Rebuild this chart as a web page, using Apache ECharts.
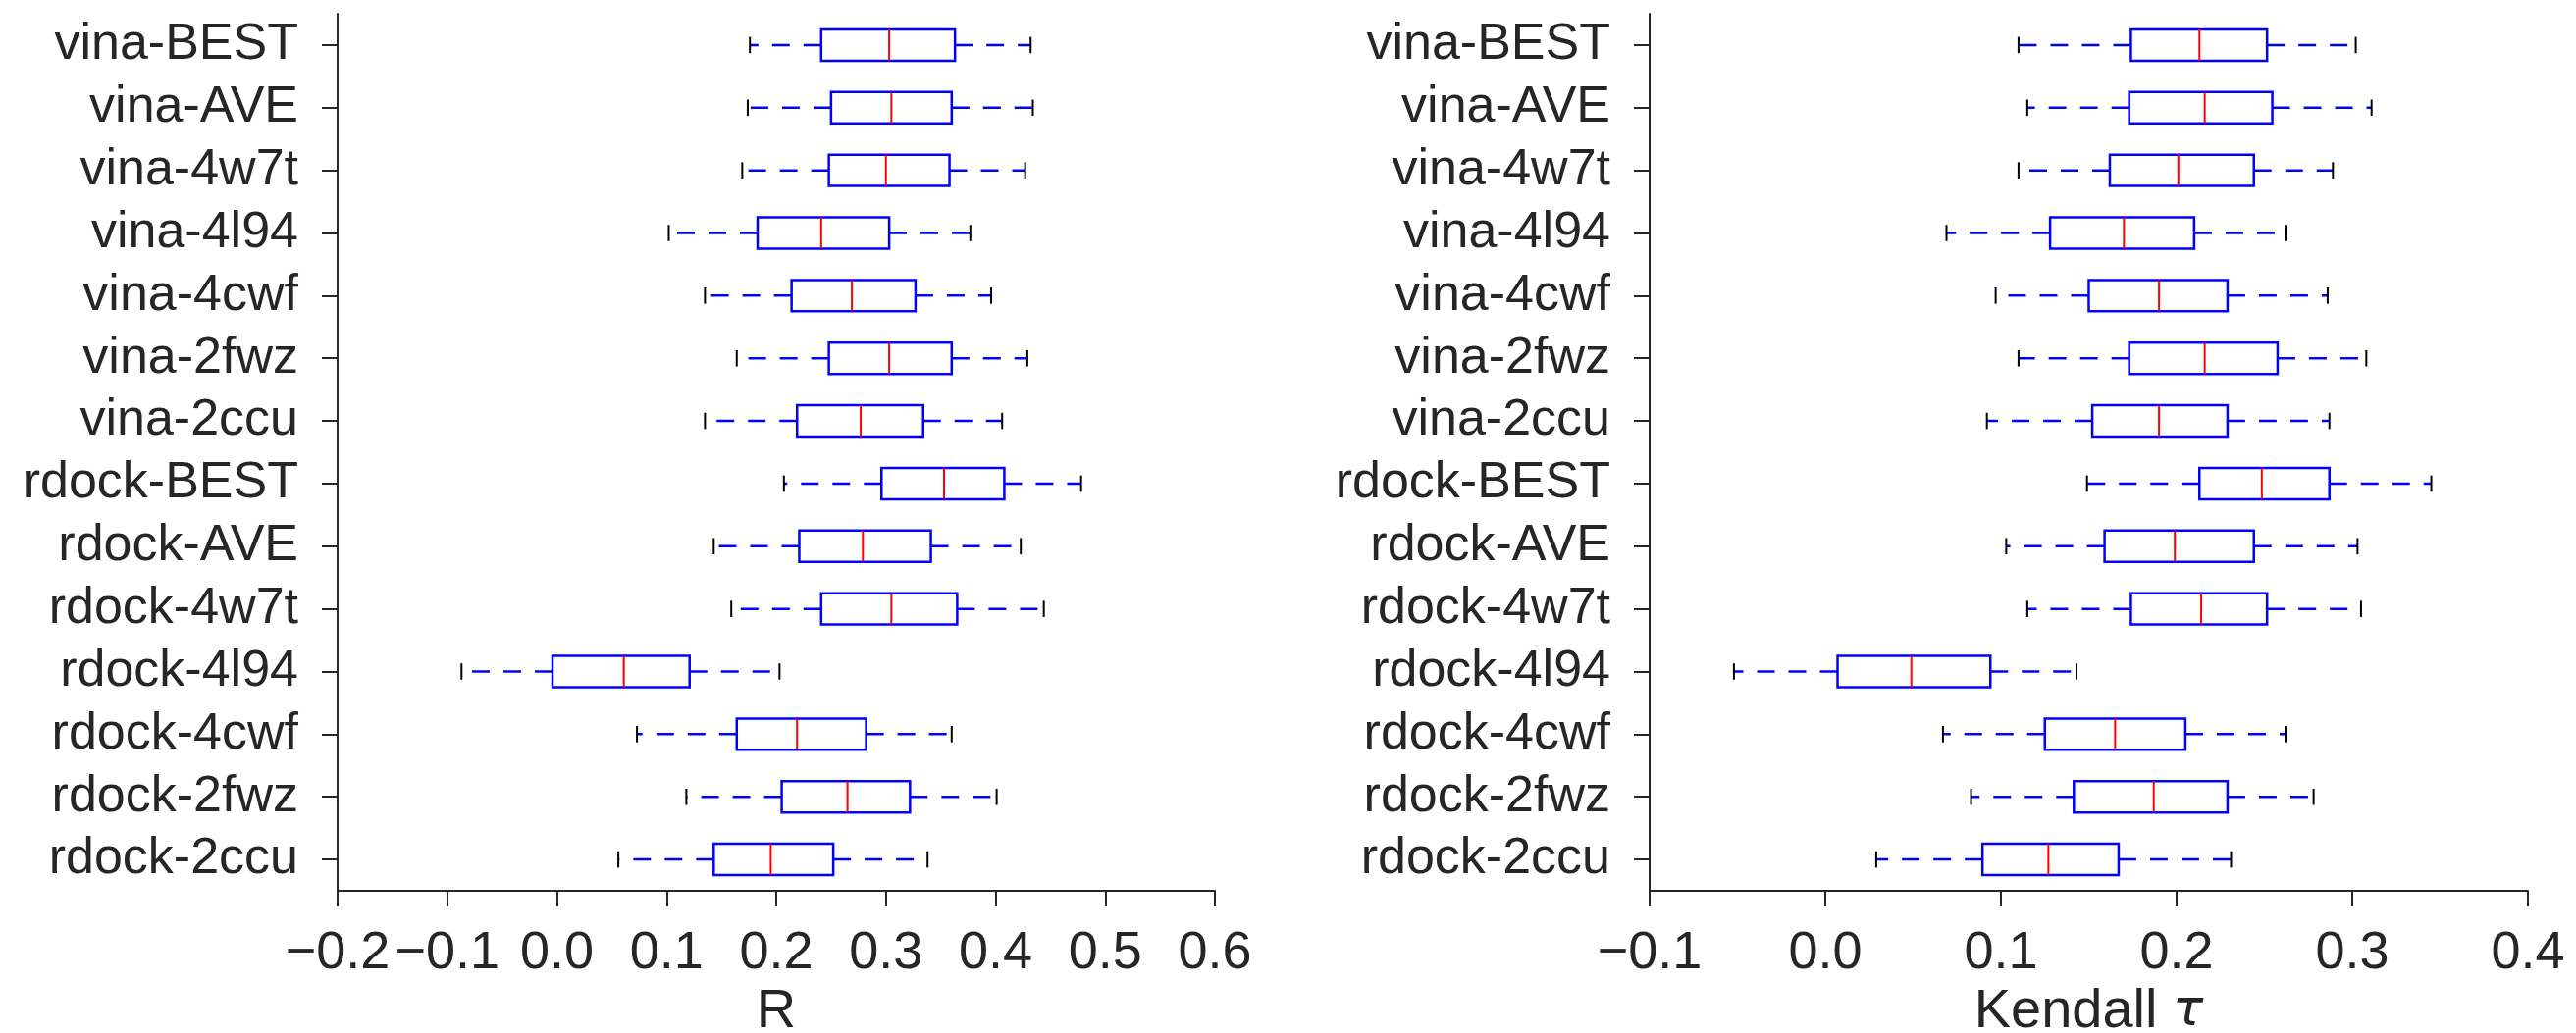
<!DOCTYPE html>
<html>
<head>
<meta charset="utf-8">
<script src="https://cdn.jsdelivr.net/npm/echarts@6/dist/echarts.min.js"></script>
<style>
  html, body { margin: 0; padding: 0; background: #ffffff; }
  #chart { width: 2625px; height: 1053px; }
</style>
</head>
<body>
<div id="chart"></div>
<script>
// Scoring methods, listed top to bottom
const methods = [
  'vina-BEST', 'vina-AVE', 'vina-4w7t', 'vina-4l94', 'vina-4cwf', 'vina-2fwz', 'vina-2ccu',
  'rdock-BEST', 'rdock-AVE', 'rdock-4w7t', 'rdock-4l94', 'rdock-4cwf', 'rdock-2fwz', 'rdock-2ccu'
];

// Pearson R: whisker low, Q1, median, Q3, whisker high
const rLow  = [0.176, 0.174, 0.169, 0.102, 0.135, 0.164, 0.135, 0.207, 0.143, 0.159, -0.087, 0.073, 0.118, 0.056];
const rQ1   = [0.241, 0.250, 0.248, 0.183, 0.214, 0.248, 0.219, 0.296, 0.221, 0.241, -0.004, 0.164, 0.205, 0.143];
const rMed  = [0.303, 0.305, 0.300, 0.241, 0.269, 0.303, 0.277, 0.353, 0.279, 0.305, 0.061, 0.219, 0.265, 0.195];
const rQ3   = [0.363, 0.360, 0.358, 0.303, 0.327, 0.360, 0.334, 0.408, 0.341, 0.365, 0.121, 0.282, 0.322, 0.252];
const rHigh = [0.432, 0.434, 0.427, 0.377, 0.396, 0.429, 0.406, 0.478, 0.423, 0.444, 0.203, 0.360, 0.401, 0.338];

// Kendall tau: whisker low, Q1, median, Q3, whisker high
const tauLow  = [0.110, 0.115, 0.110, 0.069, 0.097, 0.110, 0.092, 0.149, 0.103, 0.115, -0.052, 0.067, 0.083, 0.029];
const tauQ1   = [0.174, 0.173, 0.162, 0.128, 0.150, 0.173, 0.152, 0.213, 0.159, 0.174, 0.007, 0.125, 0.1415, 0.0895];
const tauMed  = [0.213, 0.216, 0.201, 0.170, 0.190, 0.216, 0.190, 0.2485, 0.199, 0.214, 0.049, 0.165, 0.187, 0.127];
const tauQ3   = [0.2515, 0.2545, 0.244, 0.210, 0.229, 0.2575, 0.229, 0.287, 0.244, 0.2515, 0.094, 0.205, 0.229, 0.167];
const tauHigh = [0.302, 0.311, 0.289, 0.262, 0.286, 0.308, 0.287, 0.345, 0.303, 0.305, 0.143, 0.262, 0.278, 0.231];

// Axis ranges and tick labels
const rTicks = [-0.2, -0.1, 0.0, 0.1, 0.2, 0.3, 0.4, 0.5, 0.6];
const tauTicks = [-0.1, 0.0, 0.1, 0.2, 0.3, 0.4];

const INK = '#262626';
const FONT = '"Liberation Sans", Arial, Helvetica, sans-serif';

function rows(lo, q1, md, q3, hi) {
  return methods.map((m, i) => [i, lo[i], q1[i], md[i], q3[i], hi[i]]);
}

function fmtTick(v) {
  const s = Math.abs(v).toFixed(1);
  return (v < -1e-9 ? '\u2212' : '') + s;
}

// Draws one box: dashed blue whiskers, black caps, blue box, red median
function renderBox(params, api) {
  const cat = api.value(0);
  const lo = api.coord([api.value(1), cat]);
  const q1 = api.coord([api.value(2), cat]);
  const md = api.coord([api.value(3), cat]);
  const q3 = api.coord([api.value(4), cat]);
  const hi = api.coord([api.value(5), cat]);
  const band = api.size([0, 1])[1];
  const bh = band * 0.5;
  const ch = band * 0.26;
  const y = md[1];
  const whisk = { stroke: '#0000ff', lineWidth: 2.5, lineDash: [18, 14] };
  const cap = { stroke: '#000000', lineWidth: 2 };
  return {
    type: 'group',
    children: [
      { type: 'line', shape: { x1: q1[0], y1: y, x2: lo[0], y2: y }, style: whisk },
      { type: 'line', shape: { x1: q3[0], y1: y, x2: hi[0], y2: y }, style: whisk },
      { type: 'line', shape: { x1: lo[0], y1: y - ch / 2, x2: lo[0], y2: y + ch / 2 }, style: cap },
      { type: 'line', shape: { x1: hi[0], y1: y - ch / 2, x2: hi[0], y2: y + ch / 2 }, style: cap },
      { type: 'rect', shape: { x: q1[0], y: y - bh / 2, width: q3[0] - q1[0], height: bh },
        style: { fill: 'none', stroke: '#0000ff', lineWidth: 2.5 } },
      { type: 'line', shape: { x1: md[0], y1: y - bh / 2, x2: md[0], y2: y + bh / 2 },
        style: { stroke: '#ff0000', lineWidth: 2 } }
    ]
  };
}

function valueAxis(gridIndex, ticks, name) {
  return {
    type: 'value',
    gridIndex: gridIndex,
    min: ticks[0],
    max: ticks[ticks.length - 1],
    interval: 0.1,
    name: name,
    nameLocation: 'middle',
    nameGap: 75,
    nameTextStyle: { fontFamily: FONT, fontSize: 56, color: INK,
      rich: {
        a: { fontFamily: FONT, fontSize: 56, color: INK },
        t: { fontFamily: '"DejaVu Sans", sans-serif', fontStyle: 'italic', fontSize: 52, color: INK }
      } },
    axisLine: { show: true, onZero: false, lineStyle: { color: INK, width: 2 } },
    axisTick: { show: true, inside: false, length: 16, lineStyle: { color: INK, width: 2 } },
    axisLabel: { margin: 37, fontFamily: FONT, fontSize: 54, color: INK,
      formatter: fmtTick, showMinLabel: true, showMaxLabel: true },
    splitLine: { show: false }
  };
}

function categoryAxis(gridIndex) {
  return {
    type: 'category',
    gridIndex: gridIndex,
    data: methods,
    inverse: true,
    boundaryGap: true,
    axisLine: { show: true, onZero: false, lineStyle: { color: INK, width: 2 } },
    axisTick: { show: true, alignWithLabel: true, length: 16, lineStyle: { color: INK, width: 2 } },
    axisLabel: { margin: 40, fontFamily: FONT, fontSize: 52, color: INK, interval: 0 },
    splitLine: { show: false }
  };
}

const chart = echarts.init(document.getElementById('chart'), null, { renderer: 'canvas' });
chart.setOption({
  backgroundColor: '#ffffff',
  animation: false,
  grid: [
    { left: 344, top: 14, width: 894, height: 894, containLabel: false, outerBoundsMode: 'none' },
    { left: 1681, top: 14, width: 895, height: 894, containLabel: false, outerBoundsMode: 'none' }
  ],
  xAxis: [
    valueAxis(0, rTicks, 'R'),
    valueAxis(1, tauTicks, '{a|Kendall }{t|\u03c4}')
  ],
  yAxis: [categoryAxis(0), categoryAxis(1)],
  series: [
    {
      type: 'custom', name: 'R', xAxisIndex: 0, yAxisIndex: 0,
      renderItem: renderBox,
      encode: { x: [1, 2, 3, 4, 5], y: 0 },
      data: rows(rLow, rQ1, rMed, rQ3, rHigh)
    },
    {
      type: 'custom', name: 'Kendall tau', xAxisIndex: 1, yAxisIndex: 1,
      renderItem: renderBox,
      encode: { x: [1, 2, 3, 4, 5], y: 0 },
      data: rows(tauLow, tauQ1, tauMed, tauQ3, tauHigh)
    }
  ]
});
</script>
</body>
</html>
